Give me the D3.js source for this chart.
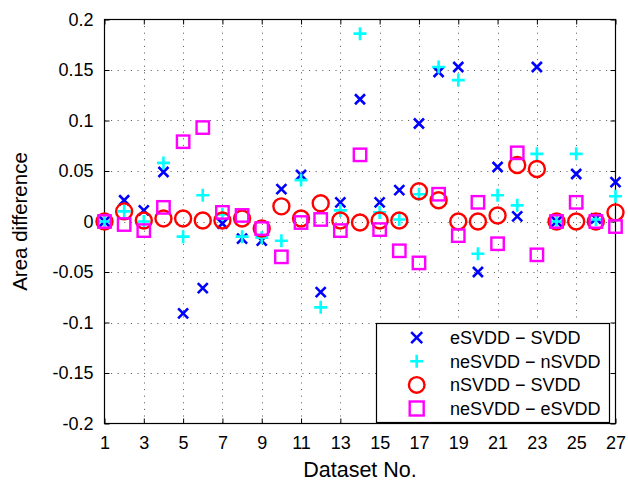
<!DOCTYPE html>
<html>
<head>
<meta charset="utf-8">
<script src="https://cdn.jsdelivr.net/npm/d3@7"></script>
<style>
  html, body { margin: 0; padding: 0; background: #fff; }
  svg { display: block; font-family: "Liberation Sans", Arial, Helvetica, sans-serif; }
</style>
</head>
<body>
<svg id="chart" width="628" height="481"></svg>
<script>
// Dataset indices 1..27
const datasets = d3.range(1, 28);

// Area differences per dataset
const eSVDD_SVDD = [0, 0.021, 0.011, 0.049, -0.091, -0.066, -0.002, -0.017, -0.019, 0.032,
  0.046, -0.070, 0.019, 0.121, 0.019, 0.031, 0.097, 0.148, 0.153, -0.050,
  0.054, 0.005, 0.153, 0, 0.047, 0.003, 0.039];
const neSVDD_nSVDD = [0, 0.010, 0.000, 0.058, -0.015, 0.026, 0.007, -0.015, -0.016, -0.019,
  0.041, -0.085, 0.011, 0.186, 0.009, 0.002, 0.027, 0.153, 0.140, -0.032,
  0.026, 0.016, 0.067, 0, 0.067, 0.002, 0.025];
const nSVDD_SVDD = [0, 0.010, 0.001, 0.003, 0.003, 0.001, 0.001, 0.003, -0.007, 0.015,
  0.003, 0.018, 0.001, -0.001, 0.001, 0.001, 0.030, 0.021, 0, 0,
  0.006, 0.056, 0.052, 0, 0, 0, 0.009];
const neSVDD_eSVDD = [0, -0.003, -0.009, 0.014, 0.079, 0.093, 0.009, 0.006, -0.007, -0.035,
  -0.001, 0.002, -0.009, 0.066, -0.008, -0.029, -0.041, 0.027, -0.014, 0.019,
  -0.022, 0.068, -0.033, 0, 0.019, 0, -0.005];

const seriesNames = ["eSVDD \u2212 SVDD", "neSVDD \u2212 nSVDD", "nSVDD \u2212 SVDD", "neSVDD \u2212 eSVDD"];
const xTicks = d3.range(1, 28, 2);
const yTicks = [-0.2, -0.15, -0.1, -0.05, 0, 0.05, 0.1, 0.15, 0.2];

const svg = d3.select("#chart");
const plotL = 104.5, plotR = 615.5, plotT = 19.5, plotB = 423.5;

const x = d3.scaleLinear().domain([1, 27]).range([plotL, plotR]);
const y = d3.scaleLinear().domain([-0.2, 0.2]).range([plotB, plotT]);

svg.append("rect").attr("width", 628).attr("height", 481).attr("fill", "#fff");

// Dotted grid
const grid = svg.append("g").attr("stroke", "#555").attr("stroke-width", 1)
  .attr("stroke-dasharray", "1,5.6");
grid.selectAll("line.gx").data(xTicks.slice(1, -1)).join("line")
  .attr("x1", d => Math.round(x(d)) + 0.5).attr("x2", d => Math.round(x(d)) + 0.5)
  .attr("y1", plotT).attr("y2", plotB);
grid.selectAll("line.gy").data(yTicks.slice(1, -1)).join("line")
  .attr("y1", d => Math.round(y(d)) + 0.5).attr("y2", d => Math.round(y(d)) + 0.5)
  .attr("x1", plotL).attr("x2", plotR);

// Axes with inward ticks
const tickFmt = d => d === 0 ? "0" : String(d);
const axB = svg.append("g").attr("transform", `translate(0,${plotB})`)
  .call(d3.axisBottom(x).tickValues(xTicks).tickSizeInner(-5).tickSizeOuter(0).tickPadding(13));
const axT = svg.append("g").attr("transform", `translate(0,${plotT})`)
  .call(d3.axisTop(x).tickValues(xTicks).tickSizeInner(-5).tickSizeOuter(0).tickFormat(""));
const axL = svg.append("g").attr("transform", `translate(${plotL},0)`)
  .call(d3.axisLeft(y).tickValues(yTicks).tickSizeInner(-5).tickSizeOuter(0).tickPadding(11).tickFormat(tickFmt));
const axR = svg.append("g").attr("transform", `translate(${plotR},0)`)
  .call(d3.axisRight(y).tickValues(yTicks).tickSizeInner(-5).tickSizeOuter(0).tickFormat(""));
[axB, axT, axL, axR].forEach(g => {
  g.select(".domain").remove();
  g.selectAll("line").attr("stroke", "#000");
  g.selectAll("text").attr("font-size", 18).attr("fill", "#000")
    .attr("font-family", "'Liberation Sans', Arial, sans-serif");
});

// Plot box
svg.append("rect").attr("x", plotL).attr("y", plotT)
  .attr("width", plotR - plotL).attr("height", plotB - plotT)
  .attr("fill", "none").attr("stroke", "#000").attr("stroke-width", 1.2);

// Marker shapes
function drawX(g, s, color) {
  g.append("path").attr("d", `M${-s},${-s}L${s},${s}M${-s},${s}L${s},${-s}`)
    .attr("stroke", color).attr("stroke-width", 2.6).attr("fill", "none");
}
function drawPlus(g, s, color) {
  g.append("path").attr("d", `M${-s},0L${s},0M0,${-s}L0,${s}`)
    .attr("stroke", color).attr("stroke-width", 2.6).attr("fill", "none");
}
function drawCircle(g, r, color) {
  g.append("circle").attr("r", r).attr("stroke", color).attr("stroke-width", 2.4).attr("fill", "none");
}
function drawSquare(g, h, color) {
  g.append("rect").attr("x", -h).attr("y", -h).attr("width", 2 * h).attr("height", 2 * h)
    .attr("stroke", color).attr("stroke-width", 2.4).attr("fill", "none");
}

const series = [
  { values: eSVDD_SVDD, draw: g => drawX(g, 5, "#0000ff"), leg: g => drawX(g, 5.5, "#0000ff") },
  { values: neSVDD_nSVDD, draw: g => drawPlus(g, 6.5, "#00ffff"), leg: g => drawPlus(g, 6.5, "#00ffff") },
  { values: nSVDD_SVDD, draw: g => drawCircle(g, 8, "#ff0000"), leg: g => drawCircle(g, 7.8, "#ff0000") },
  { values: neSVDD_eSVDD, draw: g => drawSquare(g, 6.2, "#ff00ff"), leg: g => drawSquare(g, 7, "#ff00ff") }
];

series.forEach(s => {
  svg.append("g").selectAll("g").data(datasets).join("g")
    .attr("transform", (d, i) => `translate(${x(d)},${y(s.values[i])})`)
    .each(function () { s.draw(d3.select(this)); });
});

// Legend
const legend = svg.append("g");
legend.append("rect").attr("x", 376.5).attr("y", 323.5).attr("width", 233).attr("height", 99)
  .attr("fill", "#fff").attr("stroke", "#000").attr("stroke-width", 1.2);
const rowY = d3.scalePoint().domain(d3.range(4)).range([337.7, 408.5]);
series.forEach((s, i) => {
  const g = legend.append("g").attr("transform", `translate(416.7,${rowY(i)})`);
  s.leg(g);
  legend.append("text").attr("x", 450).attr("y", rowY(i)).attr("dy", "0.36em")
    .attr("font-size", 18).attr("fill", "#000").text(seriesNames[i]);
});

// Axis titles
svg.append("text").attr("x", (plotL + plotR) / 2).attr("y", 477).attr("text-anchor", "middle")
  .attr("font-size", 21.5).attr("fill", "#000").text("Dataset No.");
svg.append("text").attr("transform", `translate(27,${(plotT + plotB) / 2}) rotate(-90)`)
  .attr("text-anchor", "middle").attr("font-size", 20.5).attr("fill", "#000").text("Area difference");
</script>
</body>
</html>
